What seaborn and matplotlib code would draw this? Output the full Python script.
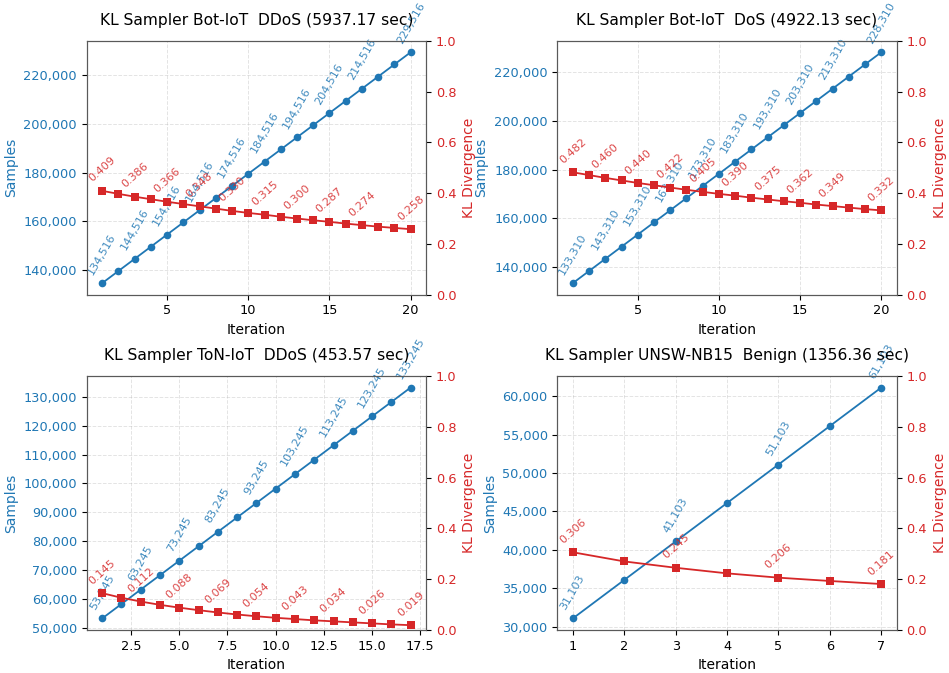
import matplotlib
matplotlib.use("Agg")
import matplotlib.pyplot as plt
import seaborn as sns
import numpy as np
from matplotlib.ticker import FuncFormatter

# --- data ------------------------------------------------------------------
titles = [
    "KL Sampler Bot-IoT  DDoS (5937.17 sec)",
    "KL Sampler Bot-IoT  DoS (4922.13 sec)",
    "KL Sampler ToN-IoT  DDoS (453.57 sec)",
    "KL Sampler UNSW-NB15  Benign (1356.36 sec)",
]

botiot_ddos_samples = [134516, 139516, 144516, 149516, 154516, 159516, 164516,
                       169516, 174516, 179516, 184516, 189516, 194516, 199516,
                       204516, 209516, 214516, 219516, 224516, 229516]
botiot_ddos_kl = [0.409, 0.397, 0.386, 0.376, 0.366, 0.357, 0.348, 0.339,
                  0.330, 0.322, 0.315, 0.307, 0.300, 0.293, 0.287, 0.280,
                  0.274, 0.268, 0.263, 0.258]

botiot_dos_samples = [133310, 138310, 143310, 148310, 153310, 158310, 163310,
                      168310, 173310, 178310, 183310, 188310, 193310, 198310,
                      203310, 208310, 213310, 218310, 223310, 228310]
botiot_dos_kl = [0.482, 0.471, 0.460, 0.450, 0.440, 0.431, 0.422, 0.413,
                 0.405, 0.397, 0.390, 0.382, 0.375, 0.368, 0.362, 0.355,
                 0.349, 0.343, 0.337, 0.332]

toniot_ddos_samples = [53245, 58245, 63245, 68245, 73245, 78245, 83245, 88245,
                       93245, 98245, 103245, 108245, 113245, 118245, 123245,
                       128245, 133245]
toniot_ddos_kl = [0.145, 0.127, 0.112, 0.099, 0.088, 0.078, 0.069, 0.061,
                  0.054, 0.048, 0.043, 0.038, 0.034, 0.030, 0.026, 0.022,
                  0.019]

unsw_benign_samples = [31103, 36103, 41103, 46103, 51103, 56103, 61103]
unsw_benign_kl = [0.306, 0.270, 0.245, 0.223, 0.206, 0.193, 0.181]

all_samples = [botiot_ddos_samples, botiot_dos_samples,
               toniot_ddos_samples, unsw_benign_samples]
all_kl = [botiot_ddos_kl, botiot_dos_kl, toniot_ddos_kl, unsw_benign_kl]

BLUE = "#1f77b4"
RED = "#d62728"

plt.rcParams.update({
    "font.family": "DejaVu Sans",
    "axes.edgecolor": "0.35",
    "xtick.labelsize": 9.3,
    "ytick.labelsize": 9.3,
    "axes.labelsize": 10,
    "axes.titlesize": 11.2,
})


def label_indices(n, step=2):
    """Every other point, plus the last one (skip the one right before it)."""
    idx = [i for i in range(0, n, step) if n - 1 - i >= step or i == n - 1]
    if n - 1 not in idx:
        idx.append(n - 1)
    return idx


fig, axes = plt.subplots(2, 2, figsize=(9.49, 6.73), dpi=100)
fig.subplots_adjust(left=0.0914, right=0.9449, top=0.9395, bottom=0.0639,
                    wspace=0.387, hspace=0.32)

for ax, title, samples, kl in zip(axes.flat, titles, all_samples, all_kl):
    iters = np.arange(1, len(samples) + 1)

    sns.lineplot(x=iters, y=samples, ax=ax, color=BLUE, marker="o",
                 markersize=5.5, markeredgewidth=0, linewidth=1.3)
    ax.set_xlabel("Iteration")
    ax.set_ylabel("Samples", color=BLUE)
    ax.tick_params(axis="y", labelcolor=BLUE)
    ax.yaxis.set_major_formatter(FuncFormatter(lambda v, p: f"{v:,.0f}"))
    ax.grid(True, linestyle="--", alpha=0.35, linewidth=0.7)
    ax.set_title(title, pad=11.5)

    ax2 = ax.twinx()
    sns.lineplot(x=iters, y=kl, ax=ax2, color=RED, marker="s",
                 markersize=5.5, markeredgewidth=0, linewidth=1.3)
    ax2.set_ylim(0, 1.0)
    ax2.set_ylabel("KL Divergence", color=RED)
    ax2.tick_params(axis="y", labelcolor=RED)

    for i in label_indices(len(samples)):
        ax.annotate(f"{samples[i]:,}", (iters[i], samples[i]),
                    xytext=(0, 5), textcoords="offset points",
                    ha="center", va="bottom", rotation=60,
                    fontsize=8, color=BLUE, alpha=0.85)
        ax2.annotate(f"{kl[i]:.3f}", (iters[i], kl[i]),
                     xytext=(0, 5), textcoords="offset points",
                     ha="center", va="bottom", rotation=42,
                     fontsize=8, color=RED, alpha=0.85)

fig.savefig("out.png", dpi=100)
